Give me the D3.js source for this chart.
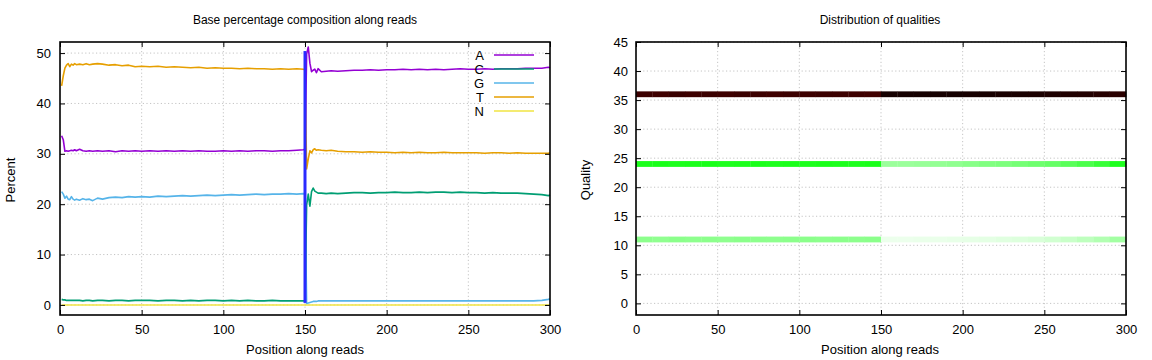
<!DOCTYPE html>
<html><head><meta charset="utf-8">
<script src="https://cdn.jsdelivr.net/npm/d3@7"></script>
<style>
body{margin:0;background:#fff;}
svg{display:block;font-family:"Liberation Sans",Arial,Helvetica,sans-serif;}
</style></head>
<body>
<svg id="chart" width="1152" height="360"></svg>
<script>
// ---------- Left chart data: base composition per cycle ----------
const cycles = [
  1,2,3,4,5,6,7,8,9,10,
  12,14,16,18,20,
  23,26,30,34,38,42,46,50,
  55,60,65,70,75,80,85,90,95,100,105,110,115,120,125,130,135,140,145,
  149,150,
  151,152,153,154,155,156,157,158,
  160,163,166,170,
  175,180,185,190,195,200,205,210,215,220,225,230,235,240,245,250,255,260,265,270,275,280,285,290,295,
  299,300];
const baseA = [
  33.6,32.8,30.5,30.6,30.5,30.6,30.7,30.6,30.8,30.6,
  30.9,30.6,30.5,30.6,30.5,
  30.6,30.5,30.6,30.4,30.6,30.5,30.6,30.5,
  30.6,30.5,30.6,30.5,30.6,30.5,30.6,30.5,30.5,30.6,30.5,30.6,30.5,30.6,30.6,30.5,30.6,30.6,30.7,
  30.8,30.9,
  49.8,51.2,48.0,46.3,46.6,46.8,46.1,46.9,
  46.3,46.4,46.5,46.4,
  46.5,46.6,46.6,46.7,46.6,46.7,46.7,46.8,46.7,46.8,46.7,46.8,46.7,46.8,46.9,46.8,46.8,46.9,46.8,46.9,46.9,46.9,47.0,47.0,47.0,
  47.2,47.1];
const baseC = [
  1.1,1.0,1.0,0.9,0.9,0.9,0.9,0.9,0.9,0.9,
  0.9,0.8,0.9,0.9,0.8,
  0.9,0.9,0.8,0.9,0.9,0.8,0.9,0.9,
  0.9,0.8,0.9,0.9,0.8,0.9,0.8,0.9,0.9,0.8,0.9,0.8,0.9,0.8,0.8,0.9,0.8,0.8,0.8,
  0.8,0.8,
  19.8,22.0,19.6,22.5,23.2,22.6,22.4,22.2,
  22.2,22.1,22.2,22.1,
  22.2,22.3,22.3,22.2,22.3,22.3,22.4,22.3,22.3,22.4,22.3,22.4,22.4,22.3,22.4,22.3,22.3,22.2,22.3,22.2,22.2,22.2,22.1,22.0,21.9,
  21.7,21.8];
const baseG = [
  22.5,22.0,21.2,21.6,21.0,20.9,21.5,21.0,20.8,21.0,
  20.8,21.1,20.9,21.0,20.7,
  21.2,21.0,21.3,21.4,21.3,21.5,21.4,21.5,
  21.4,21.6,21.5,21.6,21.7,21.6,21.7,21.8,21.7,21.8,21.9,21.8,21.9,22.0,21.9,22.0,22.0,22.1,22.0,
  22.1,22.0,
  0.3,0.4,0.5,0.6,0.7,0.7,0.7,0.8,
  0.8,0.8,0.8,0.8,
  0.8,0.8,0.8,0.8,0.8,0.8,0.8,0.8,0.8,0.8,0.8,0.8,0.8,0.8,0.8,0.8,0.8,0.8,0.8,0.8,0.8,0.8,0.8,0.8,0.9,
  1.1,1.2];
const baseT = [
  43.5,45.5,47.0,47.6,47.9,47.3,47.8,47.6,47.9,47.7,
  47.8,47.7,47.9,47.7,47.8,
  47.9,47.8,47.6,47.7,47.5,47.6,47.3,47.4,
  47.3,47.4,47.2,47.3,47.2,47.1,47.2,47.0,47.1,47.0,47.0,46.9,47.0,46.9,46.9,46.8,46.9,46.8,46.9,
  46.8,46.7,
  27.0,29.0,30.6,30.2,30.8,31.0,30.7,30.8,
  30.7,30.6,30.7,30.5,
  30.4,30.4,30.3,30.4,30.3,30.3,30.2,30.3,30.2,30.3,30.2,30.2,30.3,30.2,30.2,30.2,30.2,30.1,30.2,30.2,30.1,30.2,30.1,30.1,30.1,
  30.1,30.2];
const baseN = cycles.map(() => 0.0);
const baseNames = ["A","C","G","T","N"];
const baseColors = ["#9400d3","#009e73","#56b4e9","#e69f00","#f0e442"];
const baseSeries = [baseA, baseC, baseG, baseT, baseN];
const splitCycle = [150];
const splitRange = [0.4, 50.4];
const pctTicks = [0,10,20,30,40,50];
const posTicks = [0,50,100,150,200,250,300];

// ---------- Right chart data: quality distribution heat map ----------
const qualTicks = [0,5,10,15,20,25,30,35,40,45];
const binEdges = [0,10,20,30,40,50,60,70,80,90,100,110,120,130,140,150,160,170,180,190,200,210,220,230,240,250,260,270,280,290,300];
const qualRows = [36, 24, 11];
const q36 = [0.922,0.918,0.925,0.920,0.923,0.919,0.924,0.921,0.918,0.922,0.920,0.923,0.921,0.919,0.917,
             0.972,0.973,0.972,0.971,0.972,0.970,0.970,0.968,0.967,0.965,0.962,0.958,0.955,0.950,0.945];
const q24 = [0.296,0.300,0.295,0.298,0.300,0.294,0.297,0.299,0.295,0.298,0.296,0.300,0.297,0.295,0.299,
             0.130,0.130,0.135,0.140,0.145,0.155,0.165,0.170,0.180,0.190,0.200,0.215,0.235,0.260,0.295];
const q11 = [0.150,0.145,0.152,0.148,0.150,0.146,0.151,0.149,0.147,0.150,0.152,0.148,0.150,0.149,0.151,
             0.025,0.025,0.027,0.028,0.030,0.032,0.035,0.040,0.045,0.050,0.060,0.070,0.085,0.100,0.120];
const qualLevels = [q36, q24, q11];

// ---------- Drawing ----------
const svg = d3.select("#chart");
const FS = 13;
const palette = d3.scaleLinear().domain([0,0.333,0.667,1]).range(["#ffffff","#00ff00","#ff0000","#000000"]);

function frame(g, x, y, W, H, xTicks, yTicks, yPad) {
  const grid = g.append("g").attr("stroke","#c4c4c4").attr("stroke-width",1).attr("stroke-dasharray","1.2,2.4");
  xTicks.forEach(t => { if (x(t) > x.range()[0]+1 && x(t) < x.range()[1]-1)
    grid.append("line").attr("x1",x(t)).attr("x2",x(t)).attr("y1",y.range()[0]).attr("y2",y.range()[1]); });
  yTicks.forEach(t => grid.append("line").attr("x1",x.range()[0]).attr("x2",x.range()[1]).attr("y1",y(t)).attr("y2",y(t)));
}
function axes(g, x, y, xTicks, yTicks, yPad) {
  const [x0,x1] = x.range(), [y0,y1] = y.range();
  const ax = g.append("g").attr("transform",`translate(0,${y0})`)
    .call(d3.axisBottom(x).tickValues(xTicks).tickSize(-5).tickPadding(10));
  g.append("g").attr("transform",`translate(0,${y1})`)
    .call(d3.axisTop(x).tickValues(xTicks).tickSize(-5).tickFormat(""));
  g.append("g").attr("transform",`translate(${x0},0)`)
    .call(d3.axisLeft(y).tickValues(yTicks).tickSize(-5).tickPadding(yPad));
  g.append("g").attr("transform",`translate(${x1},0)`)
    .call(d3.axisRight(y).tickValues(yTicks).tickSize(-5).tickFormat(""));
  g.selectAll(".domain").remove();
  g.selectAll(".tick line").attr("stroke","#000").attr("stroke-width",1);
  g.selectAll(".tick text").attr("font-size",FS).attr("fill","#000")
    .attr("font-family",'"Liberation Sans",Arial,sans-serif');
  g.append("rect").attr("x",x0).attr("y",y1).attr("width",x1-x0).attr("height",y0-y1)
    .attr("fill","none").attr("stroke","#000").attr("stroke-width",1.6);
}
function labels(cx, title, xlab, ylabX, ylab) {
  svg.append("text").attr("x",cx).attr("y",24).attr("text-anchor","middle").attr("font-size",12).text(title);
  svg.append("text").attr("x",cx).attr("y",354).attr("text-anchor","middle").attr("font-size",FS).text(xlab);
  svg.append("text").attr("transform",`translate(${ylabX},180) rotate(-90)`).attr("text-anchor","middle")
    .attr("font-size",FS).text(ylab);
}

// Left chart
{
  const x = d3.scaleLinear().domain([0,300]).range([60,550]);
  const y = d3.scaleLinear().domain([-2,52.2]).range([315,42]);
  const g = svg.append("g");
  frame(g, x, y, 0, 0, posTicks, pctTicks);
  const line = d3.line().x((d,i) => x(cycles[i])).y(d => y(d));
  // draw N first then others in reverse so A is on top
  [4,3,2,1,0].forEach(k => {
    g.append("path").datum(baseSeries[k]).attr("d",line).attr("fill","none")
      .attr("stroke",baseColors[k]).attr("stroke-width",1.6).attr("stroke-linejoin","round");
  });
  splitCycle.forEach(c => {
    g.append("line").attr("x1",x(c)).attr("x2",x(c)).attr("y1",y(splitRange[0])).attr("y2",y(splitRange[1]))
      .attr("stroke","#2a2aff").attr("stroke-width",3);
  });
  axes(g, x, y, posTicks, pctTicks, 9);
  const leg = g.append("g");
  baseNames.forEach((n,i) => {
    const ly = 55 + i*14;
    leg.append("text").attr("x",484).attr("y",ly).attr("dy","0.35em").attr("text-anchor","end")
      .attr("font-size",FS).text(n);
    leg.append("line").attr("x1",494).attr("x2",534).attr("y1",ly).attr("y2",ly)
      .attr("stroke",baseColors[i]).attr("stroke-width",1.6);
  });
  labels(305, "Base percentage composition along reads", "Position along reads", 15, "Percent");
}

// Right chart
{
  const x = d3.scaleLinear().domain([0,300]).range([636,1126]);
  const y = d3.scaleLinear().domain([-2,45]).range([315,42]);
  const g = svg.append("g");
  frame(g, x, y, 0, 0, posTicks, qualTicks);
  qualRows.forEach((q,r) => {
    qualLevels[r].forEach((v,i) => {
      g.append("rect").attr("x",x(binEdges[i])).attr("width",x(binEdges[i+1])-x(binEdges[i])+0.3)
        .attr("y",y(q+0.5)).attr("height",y(q-0.5)-y(q+0.5)).attr("fill",palette(v));
    });
  });
  axes(g, x, y, posTicks, qualTicks, 8);
  labels(880, "Distribution of qualities", "Position along reads", 590, "Quality");
}
</script>
</body></html>
